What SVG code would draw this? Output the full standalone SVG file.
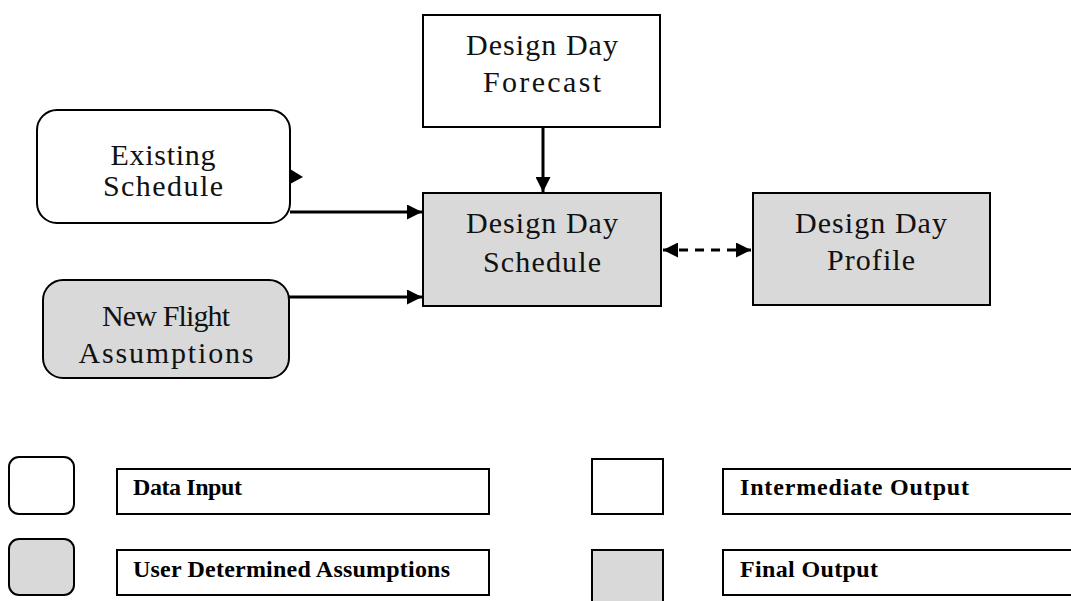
<svg xmlns="http://www.w3.org/2000/svg" width="1071" height="601" viewBox="0 0 1071 601">
  <style>
    .box { stroke: #000; stroke-width: 2; }
    .white { fill: #fff; }
    .grey { fill: #d9d9d9; }
    .lbl { font-family: "Liberation Serif", "DejaVu Serif", serif; font-size: 30px; fill: #111; text-anchor: middle; }
    .key { font-family: "Liberation Serif", "DejaVu Serif", serif; font-size: 24px; font-weight: bold; fill: #000; }
    .edge { stroke: #000; stroke-width: 3; fill: none; }
    .dash { stroke: #000; stroke-width: 3; fill: none; stroke-dasharray: 9 7; }
  </style>
  <defs>
    <marker id="arrow" viewBox="0 0 10 10" refX="10" refY="5" markerWidth="5" markerHeight="5" orient="auto-start-reverse" markerUnits="strokeWidth">
      <path d="M0,0 L10,5 L0,10 Z" fill="#000"/>
    </marker>
  </defs>
  <rect width="1071" height="601" fill="#fff"/>

  <g id="connectors">
    <line class="edge" x1="543" y1="127" x2="543" y2="192" marker-end="url(#arrow)"/>
    <line class="edge" x1="290" y1="212" x2="422" y2="212" marker-end="url(#arrow)"/>
    <line class="edge" x1="289" y1="297" x2="422" y2="297" marker-end="url(#arrow)"/>
    <line class="dash" x1="663" y1="250" x2="751" y2="250" marker-start="url(#arrow)" marker-end="url(#arrow)"/>
  </g>

  <g id="forecast">
    <rect class="box white" x="423" y="15" width="237" height="112"/>
    <text class="lbl" x="542" y="55" textLength="152">Design Day</text>
    <text class="lbl" x="542" y="92" textLength="118">Forecast</text>
  </g>

  <g id="existing-schedule">
    <rect class="box white" x="37" y="110" width="253" height="113" rx="20" ry="20"/>
    <path d="M290,169 L303,177 L290,184 Z" fill="#000"/>
    <text class="lbl" x="163" y="165" textLength="105">Existing</text>
    <text class="lbl" x="163" y="196" textLength="120">Schedule</text>
  </g>

  <g id="new-flight">
    <rect class="box grey" x="43" y="280" width="246" height="98" rx="20" ry="20"/>
    <text class="lbl" x="166" y="326" textLength="128">New Flight</text>
    <text class="lbl" x="166" y="363" textLength="175">Assumptions</text>
  </g>

  <g id="schedule">
    <rect class="box grey" x="423" y="193" width="238" height="113"/>
    <text class="lbl" x="542" y="233" textLength="152">Design Day</text>
    <text class="lbl" x="542" y="272" textLength="118">Schedule</text>
  </g>

  <g id="profile">
    <rect class="box grey" x="753" y="193" width="237" height="112"/>
    <text class="lbl" x="871" y="233" textLength="152">Design Day</text>
    <text class="lbl" x="871" y="270" textLength="88">Profile</text>
  </g>

  <g id="legend">
    <rect class="box white" x="9" y="457" width="65" height="57" rx="10" ry="10"/>
    <rect class="box white" x="117" y="469" width="372" height="45"/>
    <text class="key" x="133" y="495" textLength="109">Data Input</text>

    <rect class="box grey" x="9" y="539" width="65" height="56" rx="10" ry="10"/>
    <rect class="box white" x="117" y="550" width="372" height="45"/>
    <text class="key" x="133" y="577" textLength="317">User Determined Assumptions</text>

    <rect class="box white" x="592" y="459" width="71" height="55"/>
    <rect class="box white" x="723" y="469" width="360" height="45"/>
    <text class="key" x="740" y="495" textLength="229">Intermediate Output</text>

    <rect class="box grey" x="592" y="550" width="71" height="60"/>
    <rect class="box white" x="723" y="550" width="360" height="45"/>
    <text class="key" x="740" y="577" textLength="138">Final Output</text>
  </g>
</svg>
